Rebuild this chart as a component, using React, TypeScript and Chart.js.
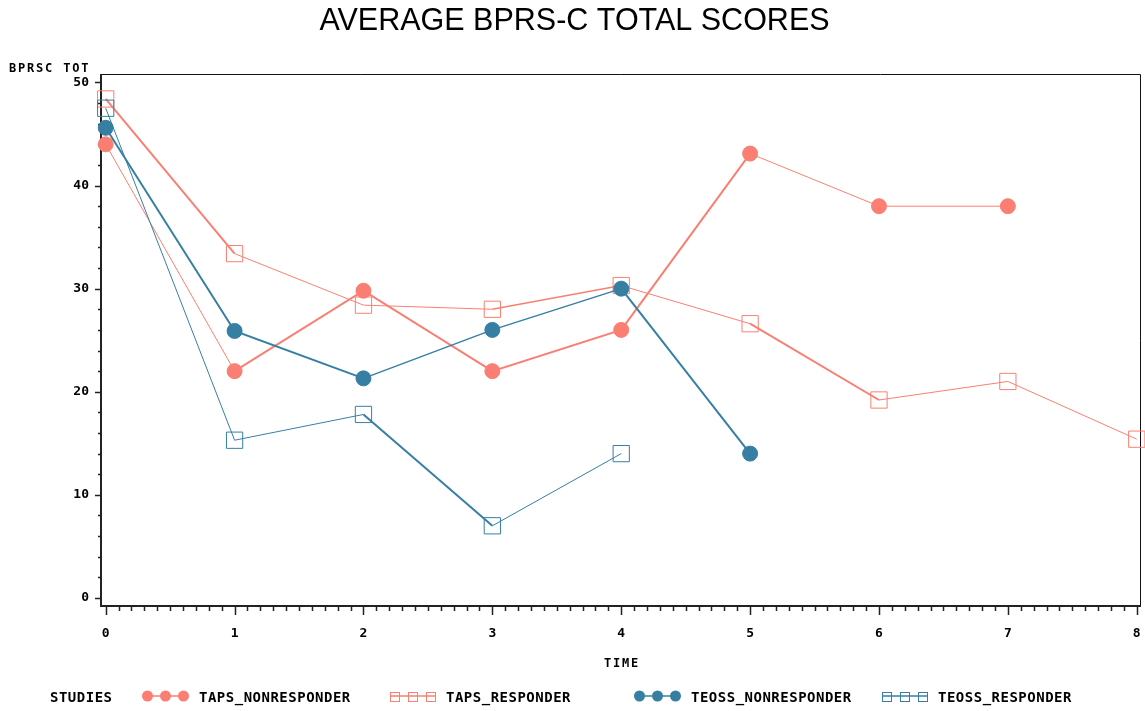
import React, { useEffect, useRef } from "react";
import { Chart, registerables } from "chart.js";
Chart.register(...registerables);

const TITLE = "AVERAGE BPRS-C TOTAL SCORES";
const Y_TITLE = "BPRSC TOT";
const X_TITLE = "TIME";
const LEGEND_TITLE = "STUDIES";

const TIME = [0, 1, 2, 3, 4, 5, 6, 7, 8];
const Y_TICKS = [0, 10, 20, 30, 40, 50];
const X_TICKS = [0, 1, 2, 3, 4, 5, 6, 7, 8];

const SERIES_NAMES = ["TAPS_NONRESPONDER", "TAPS_RESPONDER", "TEOSS_NONRESPONDER", "TEOSS_RESPONDER"];
const TAPS_NONRESPONDER = [44.0, 22.0, 29.8, 22.0, 26.0, 43.1, 38.0, 38.0];
const TAPS_RESPONDER = [48.4, 33.4, 28.4, 28.0, 30.3, 26.6, 19.2, 21.0, 15.4];
const TEOSS_NONRESPONDER = [45.6, 25.9, 21.3, 26.0, 30.0, 14.0];
const TEOSS_RESPONDER = [47.5, 15.3, 17.8, 7.0, 14.0];

// styling (segment line widths)
const W_TAPS_NON = [1, 2, 2, 2, 2, 1, 1];
const W_TAPS_RESP = [2, 1, 1, 1.5, 1, 2, 1, 1];
const W_TEOSS_NON = [2, 2, 1.5, 1.5, 2];
const W_TEOSS_RESP = [1, 1, 2, 1];

const SALMON = "#FA7F72";
const BLUE = "#367FA3";
const MONO = "'DejaVu Sans Mono', monospace";

function toPoints(vals: number[]) {
  return vals.map((v, i) => ({ x: TIME[i], y: v }));
}

const decor = {
  id: "decor",
  beforeDatasetsDraw(chart: any) {
    const { ctx, chartArea: a, scales } = chart;
    const xs = scales.x;
    const ys = scales.y;
    ctx.save();
    ctx.strokeStyle = "#111";
    ctx.lineWidth = 1;
    ctx.beginPath();
    ctx.moveTo(a.left, a.top + 0.5);
    ctx.lineTo(a.right - 0.5, a.top + 0.5);
    ctx.lineTo(a.right - 0.5, a.bottom);
    ctx.stroke();
    ctx.lineWidth = 2;
    ctx.strokeStyle = "#222";
    ctx.beginPath();
    ctx.moveTo(a.left, a.top);
    ctx.lineTo(a.left, a.bottom);
    ctx.lineTo(a.right, a.bottom);
    ctx.stroke();
    ctx.lineWidth = 1.5;
    ctx.beginPath();
    for (let v = 0; v <= 50; v += 2) {
      const py = Math.round(ys.getPixelForValue(v)) + 0.5;
      const len = v % 10 === 0 ? 6 : 3;
      ctx.moveTo(a.left, py);
      ctx.lineTo(a.left - len, py);
    }
    for (let k = 0; k <= 80; k++) {
      const v = k / 10;
      const px = Math.round(xs.getPixelForValue(v)) + 0.5;
      const len = k % 10 === 0 ? 9 : 5;
      ctx.moveTo(px, a.bottom);
      ctx.lineTo(px, a.bottom + len);
    }
    ctx.stroke();
    ctx.restore();
  },
  afterDraw(chart: any) {
    const { ctx, chartArea: a } = chart;
    ctx.save();
    ctx.fillStyle = "#000";
    ctx.font = "30.5px 'Liberation Sans', Arial, sans-serif";
    ctx.textAlign = "center";
    ctx.textBaseline = "alphabetic";
    ctx.fillText(TITLE, 574.5, 30);

    const c: any = ctx;
    ctx.font = `bold 12px ${MONO}`;
    c.letterSpacing = "1.8px";
    ctx.textAlign = "left";
    ctx.textBaseline = "middle";
    ctx.fillText(Y_TITLE, 9, 69);
    ctx.textAlign = "center";
    ctx.fillText(X_TITLE, (a.left + a.right) / 2 + 1, 664);

    c.letterSpacing = "0.5px";
    ctx.font = `bold 14px ${MONO}`;
    ctx.textAlign = "left";
    ctx.fillText(LEGEND_TITLE, 50, 698);
    const starts = [143, 390, 635, 882];
    const colors = [SALMON, SALMON, BLUE, BLUE];
    const round = [true, false, true, false];
    const gy = 696;
    SERIES_NAMES.forEach((name, i) => {
      const s = starts[i];
      ctx.strokeStyle = colors[i];
      ctx.fillStyle = colors[i];
      ctx.lineWidth = 1.5;
      ctx.beginPath();
      ctx.moveTo(s, gy);
      ctx.lineTo(s + 45, gy);
      ctx.stroke();
      [s + 4.5, s + 22.5, s + 40.5].forEach((mx) => {
        if (round[i]) {
          ctx.beginPath();
          ctx.arc(mx, gy, 5.5, 0, Math.PI * 2);
          ctx.fill();
        } else {
          ctx.lineWidth = 1;
          ctx.strokeRect(Math.round(mx - 4.5) + 0.5, Math.round(gy - 4.5) + 0.5, 9, 9);
        }
      });
      ctx.fillStyle = "#000";
      ctx.fillText(name, s + 56, 698);
    });
    ctx.restore();
  },
};

export default function App() {
  const ref = useRef<HTMLCanvasElement | null>(null);
  useEffect(() => {
    if (!ref.current) return;
    const mk = (
      label: string,
      vals: number[],
      color: string,
      circle: boolean,
      widths: number[],
      order: number
    ) => ({
      label,
      data: toPoints(vals),
      borderColor: color,
      backgroundColor: circle ? color : "rgba(0,0,0,0)",
      pointBackgroundColor: circle ? color : "rgba(0,0,0,0)",
      pointBorderColor: color,
      pointStyle: circle ? "circle" : "rect",
      pointRadius: circle ? 7.5 : 11.5,
      pointBorderWidth: 1,
      borderWidth: 1.5,
      tension: 0,
      fill: false,
      clip: false,
      order,
      segment: { borderWidth: (c: any) => widths[c.p0DataIndex] ?? 1.5 },
    });
    const chart = new Chart(ref.current, {
      type: "line",
      data: {
        datasets: [
          mk(SERIES_NAMES[0], TAPS_NONRESPONDER, SALMON, true, W_TAPS_NON, 2),
          mk(SERIES_NAMES[1], TAPS_RESPONDER, SALMON, false, W_TAPS_RESP, 2),
          mk(SERIES_NAMES[2], TEOSS_NONRESPONDER, BLUE, true, W_TEOSS_NON, 1),
          mk(SERIES_NAMES[3], TEOSS_RESPONDER, BLUE, false, W_TEOSS_RESP, 1),
        ] as any,
      },
      options: {
        responsive: false,
        devicePixelRatio: 1,
        animation: false,
        layout: { autoPadding: false, padding: { top: 74, right: 4, left: 0, bottom: 0 } },
        plugins: {
          legend: { display: false },
          tooltip: { enabled: false },
          title: { display: false },
        },
        scales: {
          x: {
            type: "linear",
            min: -0.0365,
            max: 8.033,
            grid: { display: false, drawTicks: false },
            border: { display: false },
            afterBuildTicks: (s: any) => {
              s.ticks = X_TICKS.map((v) => ({ value: v }));
            },
            afterFit: (s: any) => {
              s.height = 105;
              s.paddingLeft = 0;
              s.paddingRight = 0;
            },
            ticks: {
              autoSkip: false,
              maxRotation: 0,
              padding: 20,
              color: "#000",
              font: { family: MONO, size: 13, weight: "bold" },
              callback: (v: any) => String(v),
            },
          },
          y: {
            type: "linear",
            min: -0.78,
            max: 50.82,
            grid: { display: false, drawTicks: false },
            border: { display: false },
            afterBuildTicks: (s: any) => {
              s.ticks = Y_TICKS.map((v) => ({ value: v }));
            },
            afterFit: (s: any) => {
              s.width = 101;
              s.paddingTop = 0;
              s.paddingBottom = 0;
            },
            ticks: {
              autoSkip: false,
              padding: 12,
              color: "#000",
              font: { family: MONO, size: 13, weight: "bold" },
              callback: (v: any) => String(v),
            },
          },
        },
      } as any,
      plugins: [decor],
    });
    return () => chart.destroy();
  }, []);
  return (
    <div style={{ position: "absolute", left: 0, top: 0, width: 1145, height: 711, background: "#fff" }}>
      <canvas ref={ref} width={1145} height={711} style={{ display: "block" }} />
    </div>
  );
}
